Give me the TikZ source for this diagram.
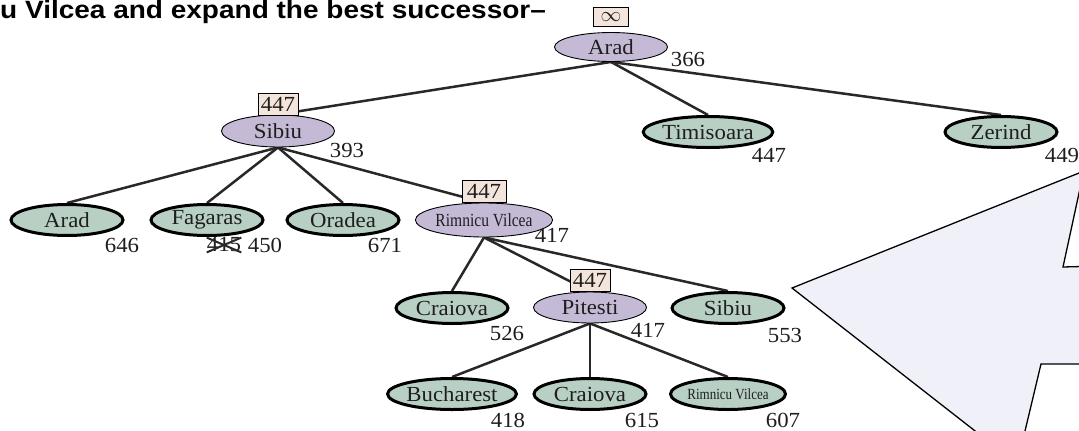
\documentclass[tikz,border=0pt]{standalone}
\usepackage{fontspec}
\usetikzlibrary{shapes.geometric,backgrounds}
\newfontfamily\nodefamily[FakeStretch=1.06]{Liberation Serif}
\newfontfamily\condfamily[FakeStretch=0.84]{Liberation Serif}
\newfontfamily\titlefamily[FakeStretch=1.12]{Liberation Sans}
\newcommand\nf{\nodefamily\fontsize{21.5}{23}\selectfont}
\newcommand\cfa{\condfamily\fontsize{18.5}{20}\selectfont}
\newcommand\cfb{\condfamily\fontsize{15.5}{17}\selectfont}
\definecolor{purpfill}{RGB}{196,186,214}
\definecolor{grnfill}{RGB}{184,208,196}
\definecolor{boxfill}{RGB}{243,228,220}
\definecolor{starfill}{RGB}{240,240,248}
\definecolor{edgecol}{RGB}{40,40,40}
\definecolor{txt}{RGB}{30,30,30}
\tikzset{
  purp/.style={ellipse, draw=black, line width=0.9pt, fill=purpfill, minimum width=113pt, minimum height=32pt, inner sep=0pt, font=\nf, text=txt},
  grn/.style={ellipse, draw=black, line width=3pt, fill=grnfill, minimum width=112pt, minimum height=31pt, inner sep=0pt, font=\nf, text=txt},
  fbox/.style={rectangle, draw=black, line width=1pt, fill=boxfill, minimum width=40pt, minimum height=22pt, inner sep=1pt, font=\nf, text=txt},
  hval/.style={font=\nf, inner sep=0pt, text=txt},
  tedge/.style={line width=2.5pt, draw=edgecol},
}
\begin{document}
\begin{tikzpicture}[x=1pt,y=-1pt]
\useasboundingbox (0,0) rectangle (1079,431);
\clip (0,0) rectangle (1079,431);
% star shape
\fill[starfill, draw=black, line width=1.3pt] (792,288) -- (1090,168.6) -- (1090.5,140) -- (1063,267) -- (1100,266) -- (1100,364) -- (1041,364) -- (1020,452) -- (1002,452) -- cycle;
% title
\node[anchor=base west, inner sep=0pt, font=\titlefamily\bfseries\fontsize{25}{27}\selectfont] (title) at (0,18) {u Vilcea and expand the best successor–};
% nodes
\node[purp, minimum height=29pt] (arad) at (611,47) {Arad};
\node[fbox, minimum width=35pt, minimum height=19pt] (barad) at (611,17) {$\infty$};
\node[hval] (harad) at (688,59) {366};

\node[purp] (sibiu) at (278,131) {Sibiu};
\node[fbox] (bsibiu) at (278,104) {447};
\node[hval] (hsibiu) at (347,150) {393};

\node[grn, minimum width=118pt] (timi) at (708,132) {Timisoara};
\node[hval] (htimi) at (769,155) {447};
\node[grn] (zer) at (1001,132) {Zerind};
\node[hval] (hzer) at (1062,155) {449};

\node[grn] (arad2) at (67,220) {Arad};
\node[hval] (harad2) at (122,245) {646};
\node[grn] (fag) at (207,220) {Fagaras};
\node[hval] (hfagold) at (224,245) {415};
\node[hval] (hfag) at (265,245) {450};
\node[grn] (ora) at (343,220) {Oradea};
\node[hval] (hora) at (385,245) {671};
\node[purp, minimum height=34pt] (rv) at (484,220) {\cfa Rimnicu Vilcea};
\node[fbox, minimum width=44pt] (brv) at (484,191.5) {447};
\node[hval] (hrv) at (552,235) {417};

\node[grn] (cra) at (452,308) {Craiova};
\node[hval] (hcra) at (507,333) {526};
\node[purp, minimum height=31pt] (pit) at (590,307.5) {Pitesti};
\node[fbox] (bpit) at (590,280.5) {447};
\node[hval] (hpit) at (648,330) {417};
\node[grn] (sib2) at (728,308) {Sibiu};
\node[hval] (hsib2) at (785,335) {553};

\node[grn, minimum width=114pt] (buc) at (452,394) {Bucharest};
\node[hval] (hbuc) at (508,420) {418};
\node[grn] (cra2) at (590,394) {Craiova};
\node[hval] (hcra2) at (642,420) {615};
\node[grn] (rv2) at (728,394) {\cfb Rimnicu Vilcea};
\node[hval] (hrv2) at (783,420) {607};

% strike-out of old value
\draw[line width=2pt, edgecol] (hfagold.north west) -- (hfagold.south east);
\draw[line width=2pt, edgecol] (hfagold.south west) -- (hfagold.north east);

\begin{scope}[on background layer]
\draw[tedge] (arad.south) -- (sibiu.north);
\draw[tedge] (arad.south) -- (timi.north);
\draw[tedge] (arad.south) -- (zer.north);
\draw[tedge] (sibiu.south) -- (arad2.north);
\draw[tedge] (sibiu.south) -- (fag.north);
\draw[tedge] (sibiu.south) -- (ora.north);
\draw[tedge] (sibiu.south) -- (rv.north);
\draw[tedge] (rv.south) -- (cra.north);
\draw[tedge] (rv.south) -- (pit.north);
\draw[tedge] (rv.south) -- (sib2.north);
\draw[tedge] (pit.south) -- (buc.north);
\draw[tedge] (pit.south) -- (cra2.north);
\draw[tedge] (pit.south) -- (rv2.north);
\end{scope}
\end{tikzpicture}
\end{document}
